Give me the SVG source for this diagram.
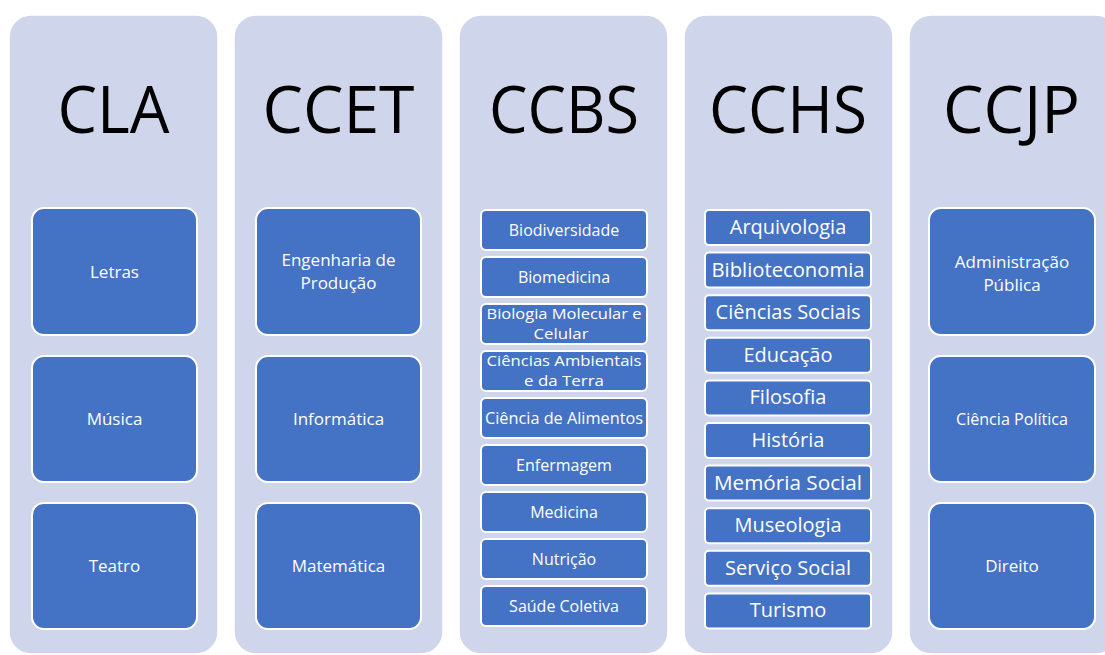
<svg xmlns="http://www.w3.org/2000/svg" width="1105" height="655" viewBox="0 0 1105 655">
<style>
.col{fill:#CFD5EA;stroke:#FFFFFF;stroke-width:1.5}
.big{fill:#4472C4;stroke:#FFFFFF;stroke-width:2}
.sm{fill:#4472C4;stroke:#FFFFFF;stroke-width:2}
.title{font-family:"Open Sans","Liberation Sans",sans-serif;font-size:66px;fill:#000000;text-anchor:middle}
.lb{font-family:"Open Sans","Liberation Sans",sans-serif;font-size:17px;fill:#FFFFFF;text-anchor:middle}
.l3{font-family:"Open Sans","Liberation Sans",sans-serif;font-size:16px;fill:#FFFFFF;text-anchor:middle}
.l3s{font-family:"Open Sans","Liberation Sans",sans-serif;font-size:14px;fill:#FFFFFF;text-anchor:middle}
.l4{font-family:"Open Sans","Liberation Sans",sans-serif;font-size:20px;fill:#FFFFFF;text-anchor:middle}
</style>
<rect x="0" y="0" width="1105" height="655" fill="#FFFFFF"/>
<g id="connectors"/>

<g id="col-cla">
<rect class="col" x="9" y="15" width="209" height="639" rx="22"/>
<text class="title" x="113.5" y="133" textLength="112" lengthAdjust="spacingAndGlyphs">CLA</text>
<g id="cla-letras"><rect class="big" x="32" y="208" width="165" height="127" rx="12"/><text class="lb" x="114.5" y="278">Letras</text></g>
<g id="cla-musica"><rect class="big" x="32" y="356" width="165" height="126" rx="12"/><text class="lb" x="114.5" y="425">Música</text></g>
<g id="cla-teatro"><rect class="big" x="32" y="503" width="165" height="126" rx="12"/><text class="lb" x="114.5" y="572">Teatro</text></g>
</g>

<g id="col-ccet">
<rect class="col" x="234" y="15" width="209" height="639" rx="22"/>
<text class="title" x="338.5" y="133" textLength="152" lengthAdjust="spacingAndGlyphs">CCET</text>
<g id="ccet-engenharia"><rect class="big" x="256" y="208" width="165" height="127" rx="12"/><text class="lb" x="338.5" y="266">Engenharia de</text><text class="lb" x="338.5" y="289">Produção</text></g>
<g id="ccet-informatica"><rect class="big" x="256" y="356" width="165" height="126" rx="12"/><text class="lb" x="338.5" y="425">Informática</text></g>
<g id="ccet-matematica"><rect class="big" x="256" y="503" width="165" height="126" rx="12"/><text class="lb" x="338.5" y="572">Matemática</text></g>
</g>

<g id="col-ccbs">
<rect class="col" x="459" y="15" width="209" height="639" rx="22"/>
<text class="title" x="564" y="133" textLength="150" lengthAdjust="spacingAndGlyphs">CCBS</text>
<g id="ccbs-1"><rect class="sm" x="481" y="210" width="166" height="40" rx="5"/><text class="l3" x="564" y="236">Biodiversidade</text></g>
<g id="ccbs-2"><rect class="sm" x="481" y="257" width="166" height="40" rx="5"/><text class="l3" x="564" y="283">Biomedicina</text></g>
<g id="ccbs-3"><rect class="sm" x="481" y="304" width="166" height="40" rx="5"/><text class="l3s" x="564" y="319.2" textLength="155" lengthAdjust="spacingAndGlyphs">Biologia Molecular e</text><text class="l3s" x="561" y="338.6" textLength="55" lengthAdjust="spacingAndGlyphs">Celular</text></g>
<g id="ccbs-4"><rect class="sm" x="481" y="351" width="166" height="40" rx="5"/><text class="l3s" x="564" y="366.2" textLength="155" lengthAdjust="spacingAndGlyphs">Ciências Ambientais</text><text class="l3s" x="564" y="385.6" textLength="80" lengthAdjust="spacingAndGlyphs">e da Terra</text></g>
<g id="ccbs-5"><rect class="sm" x="481" y="398" width="166" height="40" rx="5"/><text class="l3" x="564" y="424" textLength="158" lengthAdjust="spacingAndGlyphs">Ciência de Alimentos</text></g>
<g id="ccbs-6"><rect class="sm" x="481" y="445" width="166" height="40" rx="5"/><text class="l3" x="564" y="471">Enfermagem</text></g>
<g id="ccbs-7"><rect class="sm" x="481" y="492" width="166" height="40" rx="5"/><text class="l3" x="564" y="518">Medicina</text></g>
<g id="ccbs-8"><rect class="sm" x="481" y="539" width="166" height="40" rx="5"/><text class="l3" x="564" y="565">Nutrição</text></g>
<g id="ccbs-9"><rect class="sm" x="481" y="586" width="166" height="40" rx="5"/><text class="l3" x="564" y="612">Saúde Coletiva</text></g>
</g>

<g id="col-cchs">
<rect class="col" x="684" y="15" width="209" height="639" rx="22"/>
<text class="title" x="788" y="133" textLength="158" lengthAdjust="spacingAndGlyphs">CCHS</text>
<g id="cchs-1"><rect class="sm" x="705" y="210" width="166" height="35" rx="4"/><text class="l4" x="788" y="234">Arquivologia</text></g>
<g id="cchs-2"><rect class="sm" x="705" y="252.6" width="166" height="35" rx="4"/><text class="l4" x="788" y="276.6" textLength="153" lengthAdjust="spacingAndGlyphs">Biblioteconomia</text></g>
<g id="cchs-3"><rect class="sm" x="705" y="295.2" width="166" height="35" rx="4"/><text class="l4" x="788" y="319.2">Ciências Sociais</text></g>
<g id="cchs-4"><rect class="sm" x="705" y="337.8" width="166" height="35" rx="4"/><text class="l4" x="788" y="361.8">Educação</text></g>
<g id="cchs-5"><rect class="sm" x="705" y="380.4" width="166" height="35" rx="4"/><text class="l4" x="788" y="404.4">Filosofia</text></g>
<g id="cchs-6"><rect class="sm" x="705" y="423" width="166" height="35" rx="4"/><text class="l4" x="788" y="447">História</text></g>
<g id="cchs-7"><rect class="sm" x="705" y="465.6" width="166" height="35" rx="4"/><text class="l4" x="788" y="489.6" textLength="148" lengthAdjust="spacingAndGlyphs">Memória Social</text></g>
<g id="cchs-8"><rect class="sm" x="705" y="508.2" width="166" height="35" rx="4"/><text class="l4" x="788" y="532.2">Museologia</text></g>
<g id="cchs-9"><rect class="sm" x="705" y="550.8" width="166" height="35" rx="4"/><text class="l4" x="788" y="574.8">Serviço Social</text></g>
<g id="cchs-10"><rect class="sm" x="705" y="593.4" width="166" height="35" rx="4"/><text class="l4" x="788" y="617.4">Turismo</text></g>
</g>

<g id="col-ccjp">
<rect class="col" x="909" y="15" width="209" height="639" rx="22"/>
<text class="title" x="1011.5" y="133" textLength="137" lengthAdjust="spacingAndGlyphs">CCJP</text>
<g id="ccjp-adm"><rect class="big" x="929" y="208" width="166" height="127" rx="12"/><text class="lb" x="1012" y="268">Administração</text><text class="lb" x="1012" y="291">Pública</text></g>
<g id="ccjp-cp"><rect class="big" x="929" y="356" width="166" height="126" rx="12"/><text class="lb" x="1012" y="425" textLength="112" lengthAdjust="spacingAndGlyphs">Ciência Política</text></g>
<g id="ccjp-dir"><rect class="big" x="929" y="503" width="166" height="126" rx="12"/><text class="lb" x="1012" y="572">Direito</text></g>
</g>
</svg>
